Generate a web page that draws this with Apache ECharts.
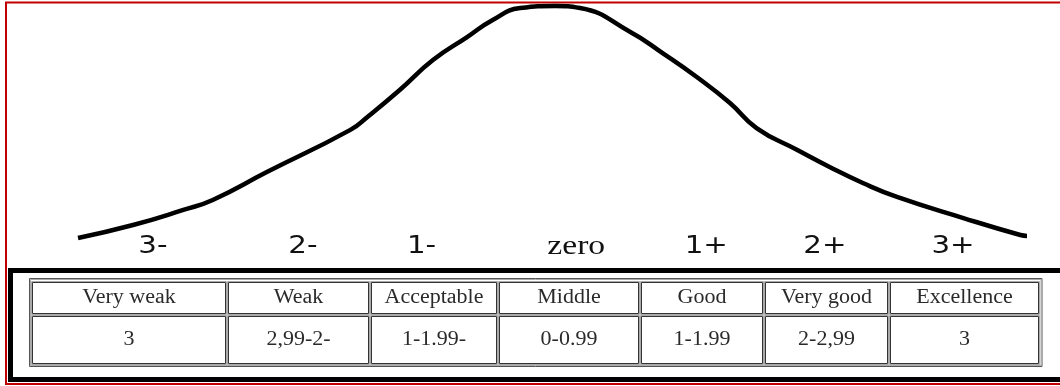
<!DOCTYPE html>
<html>
<head>
<meta charset="utf-8">
<script src="https://cdn.jsdelivr.net/npm/echarts@6/dist/echarts.min.js"></script>
<style>
  html, body { margin: 0; padding: 0; background: #fff; }
  #chart { width: 1060px; height: 386px; }
</style>
</head>
<body>
<div id="chart"></div>
<script>
// bell curve (x: 0-100 across, y: 0-100 height)
const curveX = [0, 5.8, 11.1, 14.2, 19.9, 28.7, 30.5, 33.9, 37.4, 41.0, 43.7, 46.6, 50.3,
  52.9, 58.2, 61.6, 65.2, 68.7, 71.5, 75.8, 79.2, 82.7, 86.3, 93.3, 99.3, 100]
const curveY = [0, 5.6, 12.1, 16.4, 28.4, 46.6, 52.2, 63.8, 76.7, 86.6, 94.0, 99.1, 100,
  99.1, 88.8, 79.7, 69.4, 58.2, 47.4, 37.9, 30.6, 23.7, 17.7, 8.6, 1.3, 0.9]

// scale labels under the curve
const scaleLabels = ['3-', '2-', '1-', 'zero', '1+', '2+', '3+']
const scaleLabelX = [7.9, 23.7, 36.2, 52.5, 66.2, 78.7, 92.2]

// table
const levels = ['Very weak', 'Weak', 'Acceptable', 'Middle', 'Good', 'Very good', 'Excellence']
const ranges = ['3', '2,99-2-', '1-1.99-', '0-0.99', '1-1.99', '2-2,99', '3']

// layout
const colWidths = [196, 143, 128, 142, 124, 125, 151]
const rowHeights = [34, 50]
const labelY = -3.9

const colStart = []
colWidths.reduce((acc, w) => { colStart.push(acc); return acc + w }, 0)
const totalW = colWidths.reduce((a, b) => a + b, 0)
const totalH = rowHeights[0] + rowHeights[1]

const cells = []
levels.forEach((t, i) => cells.push([i, 0, t]))
ranges.forEach((t, i) => cells.push([i, 1, t]))

const myChart = echarts.init(document.getElementById('chart'))

const option = {
  backgroundColor: '#fff',
  animation: false,
  grid: [
    { left: 78, right: 33, top: 6, bottom: 124.8 },
    { left: 31, right: 20, top: 281, bottom: 21 }
  ],
  xAxis: [
    { type: 'value', gridIndex: 0, min: 0, max: 100, show: false },
    { type: 'value', gridIndex: 1, min: 0, max: totalW, show: false }
  ],
  yAxis: [
    { type: 'value', gridIndex: 0, min: -10, max: 100, show: false },
    { type: 'value', gridIndex: 1, min: 0, max: totalH, inverse: true, show: false }
  ],
  graphic: [
    // red outer frame
    {
      type: 'rect', silent: true,
      shape: { x: 6, y: 2.5, width: 1070, height: 381.5 },
      style: { fill: 'none', stroke: '#c00000', lineWidth: 2 }
    },
    // thick black frame round the table
    {
      type: 'rect', silent: true,
      shape: { x: 10.5, y: 270.5, width: 1070, height: 109 },
      style: { fill: 'none', stroke: '#000', lineWidth: 5 }
    },
    // table outer border
    {
      type: 'rect', silent: true,
      shape: { x: 29.5, y: 278.5, width: 1012.5, height: 88 },
      style: { fill: 'none', stroke: '#555', lineWidth: 1 }
    },
    {
      type: 'rect', silent: true,
      shape: { x: 30.5, y: 279.5, width: 1010.5, height: 86 },
      style: { fill: 'none', stroke: '#aaa', lineWidth: 1 }
    }
  ],
  series: [
    {
      type: 'line',
      xAxisIndex: 0,
      yAxisIndex: 0,
      data: curveX.map((x, i) => [x, curveY[i]]),
      smooth: 0.5,
      symbol: 'none',
      clip: false,
      lineStyle: { color: '#000', width: 4.5 }
    },
    {
      type: 'custom',
      xAxisIndex: 0,
      yAxisIndex: 0,
      clip: false,
      data: scaleLabels.map((t, i) => [scaleLabelX[i], labelY, t]),
      renderItem: (params, api) => {
        const pt = api.coord([api.value(0), api.value(1)])
        const text = scaleLabels[params.dataIndex]
        const serif = text === 'zero'
        return {
          type: 'text',
          x: pt[0],
          y: pt[1],
          scaleX: serif ? 1.2 : 1.22,
          style: {
            text: text,
            fill: '#111',
            font: serif ? '28px "Liberation Serif", serif' : '24px "DejaVu Sans", sans-serif',
            align: 'center',
            verticalAlign: 'middle'
          }
        }
      }
    },
    {
      type: 'custom',
      xAxisIndex: 1,
      yAxisIndex: 1,
      clip: false,
      data: cells,
      renderItem: (params, api) => {
        const c = api.value(0)
        const r = api.value(1)
        const y0v = r === 0 ? 0 : rowHeights[0]
        const p0 = api.coord([colStart[c], y0v])
        const p1 = api.coord([colStart[c] + colWidths[c], y0v + rowHeights[r]])
        const w = p1[0] - p0[0]
        const h = p1[1] - p0[1]
        return {
          type: 'group',
          children: [
            {
              type: 'rect',
              shape: { x: Math.round(p0[0]) + 0.5, y: Math.round(p0[1]) + 0.5, width: Math.round(w) - 1, height: Math.round(h) - 1 },
              style: { fill: 'none', stroke: '#aaa', lineWidth: 1 }
            },
            {
              type: 'rect',
              shape: { x: Math.round(p0[0]) + 1.5, y: Math.round(p0[1]) + 1.5, width: Math.round(w) - 3, height: Math.round(h) - 3 },
              style: { fill: '#fff', stroke: '#333', lineWidth: 1 }
            },
            {
              type: 'text',
              x: p0[0] + w / 2,
              y: p0[1] + h / 2,
              scaleX: 1.1,
              style: {
                text: cells[params.dataIndex][2],
                fill: '#2a2a2a',
                font: '20px "Liberation Serif", serif',
                align: 'center',
                verticalAlign: 'middle'
              }
            }
          ]
        }
      }
    }
  ]
}

myChart.setOption(option)
</script>
</body>
</html>
